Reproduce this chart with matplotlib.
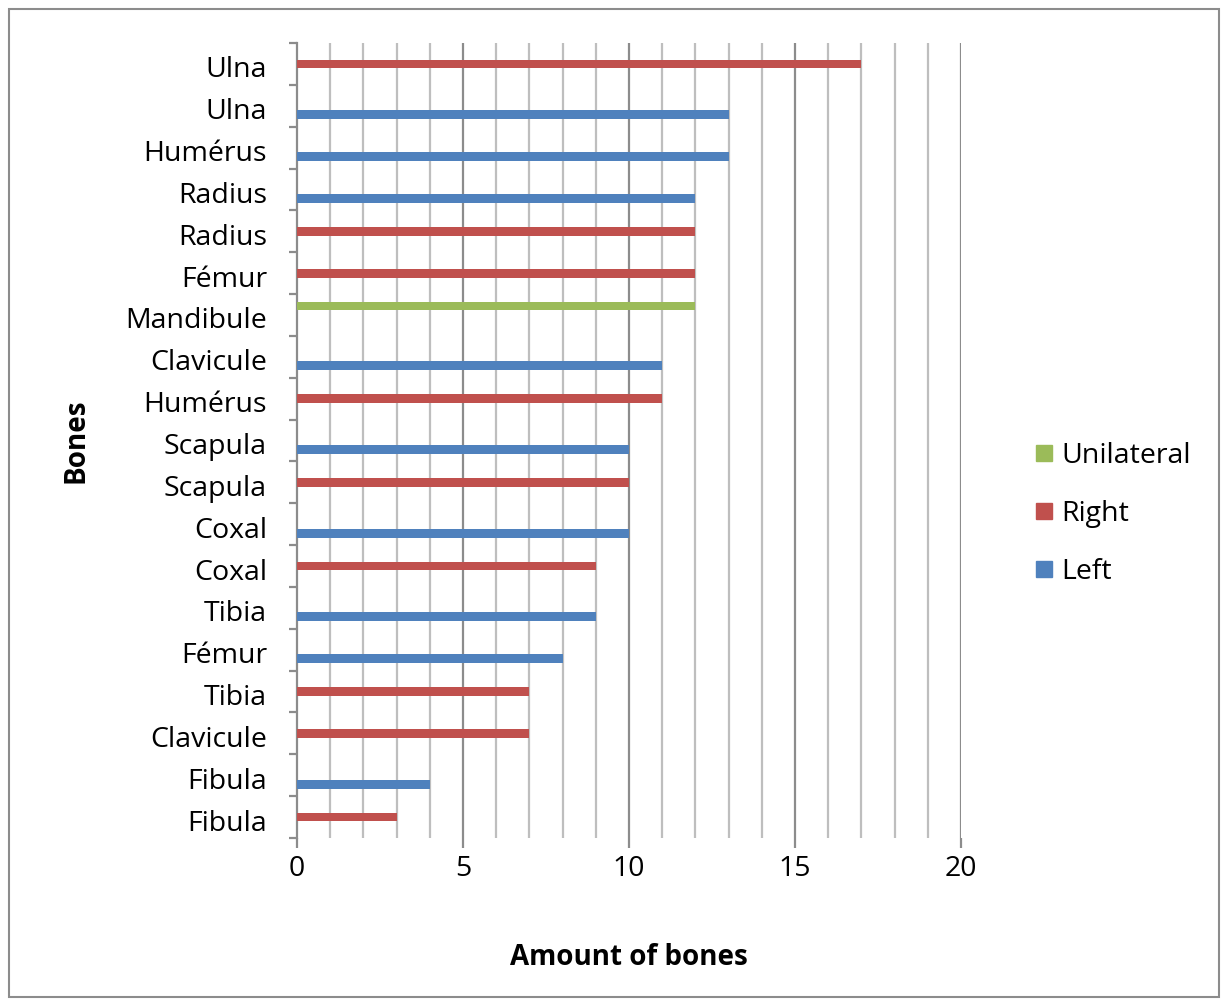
import matplotlib
matplotlib.use("Agg")
import matplotlib.pyplot as plt
from matplotlib.patches import Rectangle
from matplotlib.lines import Line2D
from matplotlib.transforms import ScaledTranslation
import numpy as np

# Categories listed top to bottom
categories = ["Ulna", "Ulna", "Humérus", "Radius", "Radius", "Fémur", "Mandibule",
              "Clavicule", "Humérus", "Scapula", "Scapula", "Coxal", "Coxal", "Tibia",
              "Fémur", "Tibia", "Clavicule", "Fibula", "Fibula"]
unilateral = [0, 0, 0, 0, 0, 0, 12, 0, 0, 0, 0, 0, 0, 0, 0, 0, 0, 0, 0]
right      = [17, 0, 0, 0, 12, 12, 0, 0, 11, 0, 10, 0, 9, 0, 0, 7, 7, 0, 3]
left       = [0, 13, 13, 12, 0, 0, 0, 11, 0, 10, 0, 10, 0, 9, 8, 0, 0, 4, 0]
series_names = ["Unilateral", "Right", "Left"]
colors = ["#9BBB59", "#C0504D", "#4F81BD"]

FONT = ["Open Sans", "DejaVu Sans"]
plt.rcParams['font.family'] = FONT

W, H = 1227, 1002
PT = 72 / 100  # points per pixel
fig = plt.figure(figsize=(W / 100, H / 100), dpi=100)
ax = fig.add_axes([297 / W, 1 - 838 / H, (961 - 297) / W, (838 - 43) / H])

n = len(categories)
ypos = np.arange(n)[::-1]  # top category at highest y
offsets = [0.215, 0.0, -0.215]
bar_h = 0.21
for vals, off, col, name in zip([unilateral, right, left], offsets, colors, series_names):
    ax.barh(ypos + off, vals, height=bar_h, color=col, zorder=3, label=name)

ax.set_xlim(0, 20)
ax.set_ylim(-0.5, n - 0.5)

# vertical grid lines
for x in range(1, 21):
    major = (x % 5 == 0)
    ax.axvline(x, color="#8C8C8C" if major else "#BEBEBE", lw=1.6, zorder=1)

for s in ["top", "right", "bottom"]:
    ax.spines[s].set_visible(False)
ax.spines["left"].set_color("#8C8C8C")
ax.spines["left"].set_linewidth(1.6)

ax.set_xticks([0, 5, 10, 15, 20])
ax.tick_params(axis="x", direction="out", length=10 * PT, width=1.6, color="#8C8C8C",
               labelsize=20.5, pad=5)
ax.set_yticks(ypos)
ax.set_yticklabels(categories)
ax.tick_params(axis="y", which="major", length=0, labelsize=20.5, pad=30 * PT)
ax.set_yticks(np.arange(-0.5, n, 1.0), minor=True)
ax.tick_params(axis="y", which="minor", direction="out", length=8 * PT, width=1.6, color="#8C8C8C")
shift = ScaledTranslation(0, -3 / 100, fig.dpi_scale_trans)
for lbl in ax.get_yticklabels():
    lbl.set_transform(lbl.get_transform() + shift)

ax.set_xlabel("Amount of bones", fontsize=20, fontweight="bold", labelpad=43)
ax.set_ylabel("Bones", fontsize=20, fontweight="bold", labelpad=25)

handles = [Line2D([], [], marker="s", linestyle="none", markersize=11,
                  markerfacecolor=c, markeredgecolor=c) for c in colors]
fig.legend(handles, series_names, loc="center left",
           bbox_to_anchor=(1004 / W, 1 - 514 / H), frameon=False, fontsize=20.5,
           handletextpad=0.1, labelspacing=1.06, handlelength=1.0)

fig.add_artist(Rectangle((9 / W, 5 / H), (1219 - 9) / W, (997 - 9) / H,
                         transform=fig.transFigure, fill=False,
                         edgecolor="#8C8C8C", lw=1.5))

fig.savefig("out.png", dpi=100)
